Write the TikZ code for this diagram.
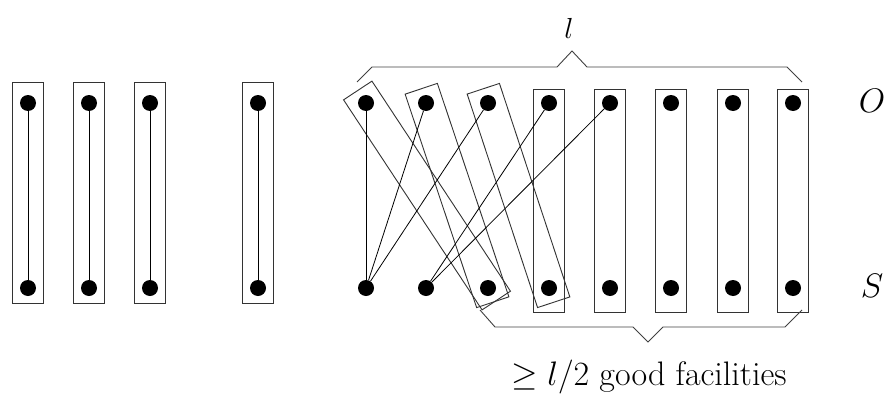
\RequirePackage{fix-cm}
\documentclass[tikz,border=0pt]{standalone}
\usepackage{fontspec}
\usetikzlibrary{calc}
\tikzset{
  dot/.style={circle,fill=black,draw=none,inner sep=0pt,minimum size=16pt},
  edge/.style={line width=0.8pt,black},
  box/.style={line width=0.9pt,black!80},
  brace/.style={line width=0.9pt,black!75,line join=miter},
  lab/.style={inner sep=0pt,font=\fontsize{34}{40}\selectfont},
}
\newcommand\tiltbox[2]{%
  \draw[box] ($(#1)!-15pt!(#2)!17pt!90:(#2)$) -- ($(#1)!-15pt!(#2)!17pt!-90:(#2)$)
    -- ($(#2)!-15pt!(#1)!17pt!90:(#1)$) -- ($(#2)!-15pt!(#1)!17pt!-90:(#1)$) -- cycle;}
\begin{document}
\begin{tikzpicture}[x=1pt,y=-1pt]
\useasboundingbox (0,0) rectangle (890,396);
% left group
\foreach \i/\x in {1/28,2/89,3/150,4/258}{
  \draw[box] (\x-15.5,82) rectangle (\x+15.5,303);
  \node[dot] (lo\i) at (\x,103) {};
  \node[dot] (ls\i) at (\x,288) {};
  \draw[edge] (lo\i) -- (ls\i);
}
% right group
\foreach \i/\x in {1/366,2/426,3/488,4/549,5/610,6/671,7/733,8/793}{
  \node[dot] (o\i) at (\x,103) {};
  \node[dot] (s\i) at (\x,288) {};
}
\foreach \i/\x in {4/549,5/610,6/671,7/733,8/793}{
  \draw[box] (\x-15.5,89) rectangle (\x+15.5,312);
}
\tiltbox{o1}{s3}
\tiltbox{o2}{s3}
\tiltbox{o3}{s4}
\draw[edge] (o1) -- (s1);
\draw[edge] (o2) -- (s1);
\draw[edge] (o3) -- (s1);
\draw[edge] (o4) -- (s2);
\draw[edge] (o5) -- (s2);
% braces
\draw[brace] (357,82) -- (372,67) -- (557,67) -- (572,51) -- (587,67) -- (787,67) -- (802,82);
\draw[brace] (480,310) -- (495,327) -- (633,327) -- (648,342) -- (663,327) -- (785,327) -- (802,310);
% labels
\node[lab,font=\fontsize{29}{34}\selectfont] (ll) at (569,28) {$l$};
\node[lab] (lO) at (872,101) {$O$};
\node[lab] (lS) at (872,286) {$S$};
\node[lab,anchor=base] (lg) at (649,385) {$\geq l/2$ good facilities};
\end{tikzpicture}
\end{document}
